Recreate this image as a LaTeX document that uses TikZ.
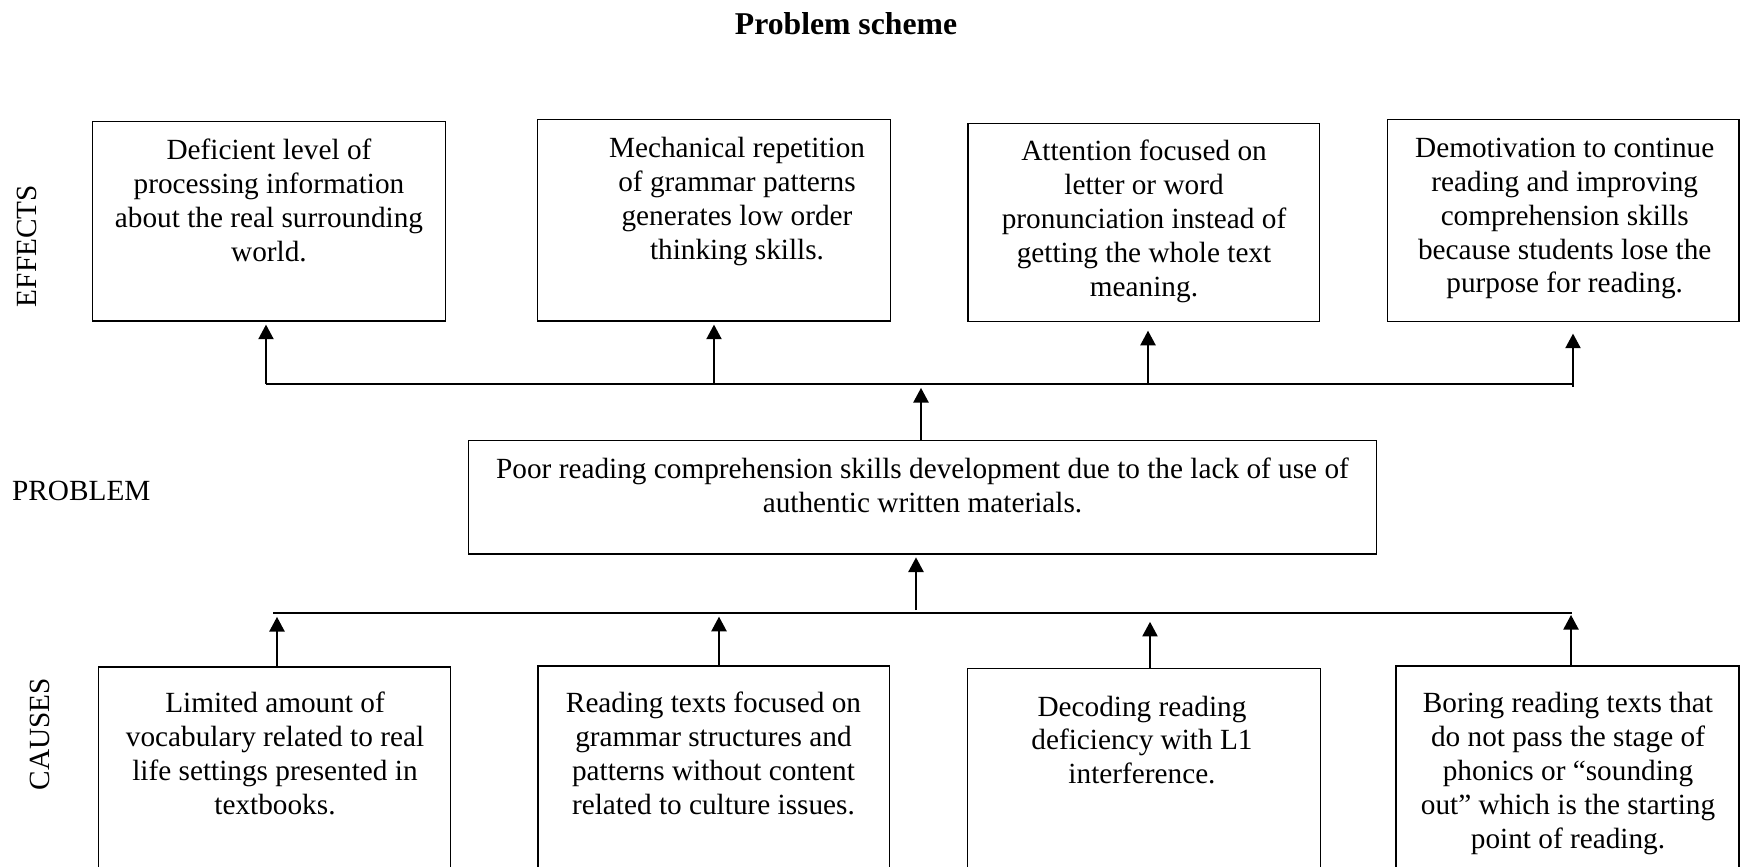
\documentclass[tikz,border=0pt]{standalone}
\usepackage{fontspec}
\setmainfont{Liberation Serif}
\usetikzlibrary{arrows.meta,fit}
\tikzset{
  box/.style={draw, line width=0.55pt, inner sep=0pt},
  txt/.style={align=center, inner sep=0pt, anchor=base, font={\fontsize{12pt}{13.9pt}\selectfont}},
  side/.style={inner sep=0pt, font={\fontsize{12pt}{13.9pt}\selectfont}},
  bar/.style={line width=0.8pt},
  arr/.style={-{Triangle[length=6pt,width=6.2pt]}, line width=0.8pt}
}
\begin{document}
\begin{tikzpicture}[x=0.41pt,y=-0.41pt]
\useasboundingbox (0,0) rectangle (1740,866);

% title and side labels
\node[side, anchor=base, font={\fontsize{13pt}{15pt}\selectfont\bfseries}] (title) at (846,34) {Problem scheme};
\node[side, rotate=90] (leff) at (27,246) {EFFECTS};
\node[side, anchor=base west] (lprob) at (11.7,500) {PROBLEM};
\node[side, rotate=90] (lcau) at (40,734) {CAUSES};

% effect boxes
\node[box, fit={(92.6,121.7) (445.8,321)}] (e1) {};
\node[box, fit={(537.3,119.3) (890.4,321)}] (e2) {};
\node[box, fit={(967.9,123.3) (1319.8,321.7)}] (e3) {};
\node[box, fit={(1387.7,119.3) (1739,321.7)}] (e4) {};
% (anchor=base is the baseline of the last line)
\node[txt] (e1t) at (269,261) {Deficient level of\\processing information\\about the real surrounding\\world.};
\node[txt] (e2t) at (737,259) {Mechanical repetition\\of grammar patterns\\generates low order\\thinking skills.};
\node[txt] (e3t) at (1144,296.3) {Attention focused on\\letter or word\\pronunciation instead of\\getting the whole text\\meaning.};
\node[txt] (e4t) at (1564.7,292.9) {Demotivation to continue\\reading and improving\\comprehension skills\\because students lose the\\purpose for reading.};

% problem box
\node[box, fit={(468.4,440.7) (1376.7,554)}] (p) {};
\node[txt] (pt) at (922.5,512.2) {Poor reading comprehension skills development due to the lack of use of\\authentic written materials.};

% cause boxes
\node[box, fit={(98.7,667) (450.6,880)}] (c1) {};
\node[box, fit={(538,666) (889.7,880)}] (c2) {};
\node[box, fit={(967.5,668.3) (1320.5,880)}] (c3) {};
\node[box, fit={(1396,666) (1739,880)}] (c4) {};
\node[txt] (c1t) at (275,814.4) {Limited amount of\\vocabulary related to real\\life settings presented in\\textbooks.};
\node[txt] (c2t) at (713.5,814.4) {Reading texts focused on\\grammar structures and\\patterns without content\\related to culture issues.};
\node[txt] (c3t) at (1142,783.8) {Decoding reading\\deficiency with L1\\interference.};
\node[txt] (c4t) at (1568,848.3) {Boring reading texts that\\do not pass the stage of\\phonics or “sounding\\out” which is the starting\\point of reading.};

% effects bar
\coordinate (eb1) at (266,384);
\coordinate (eb2) at (714,384);
\coordinate (eb3) at (1148,384);
\coordinate (eb4) at (1573,384);
\coordinate (ebp) at (921,384);
\draw[bar] (eb1) -- (eb4);
\draw[arr, shorten >=1.2pt] (eb1) -- (eb1 |- e1.south);
\draw[arr, shorten >=1.2pt] (eb2) -- (eb2 |- e2.south);
\draw[arr, shorten >=3.4pt] (eb3) -- (eb3 |- e3.south);
\draw[arr, shorten >=4.6pt, shorten <=-1.2pt] (eb4) -- (eb4 |- e4.south);
\draw[arr, shorten >=1.6pt] (ebp |- p.north) -- (ebp);

% causes bar
\coordinate (cbl) at (273,613);
\coordinate (cbr) at (1572,613);
\coordinate (cb1) at (277,613);
\coordinate (cb2) at (719,613);
\coordinate (cb3) at (1150,613);
\coordinate (cb4) at (1571,613);
\coordinate (cbp) at (916,613);
\draw[bar] (cbl) -- (cbr);
\draw[arr, shorten >=1.6pt] (cb1 |- c1.north) -- (cb1);
\draw[arr, shorten >=1.5pt] (cb2 |- c2.north) -- (cb2);
\draw[arr, shorten >=3.6pt] (cb3 |- c3.north) -- (cb3);
\draw[arr, shorten >=0.8pt] (cb4 |- c4.north) -- (cb4);
\draw[arr, shorten <=1.2pt, shorten >=1.1pt] (cbp) -- (cbp |- p.south);
\end{tikzpicture}
\end{document}
